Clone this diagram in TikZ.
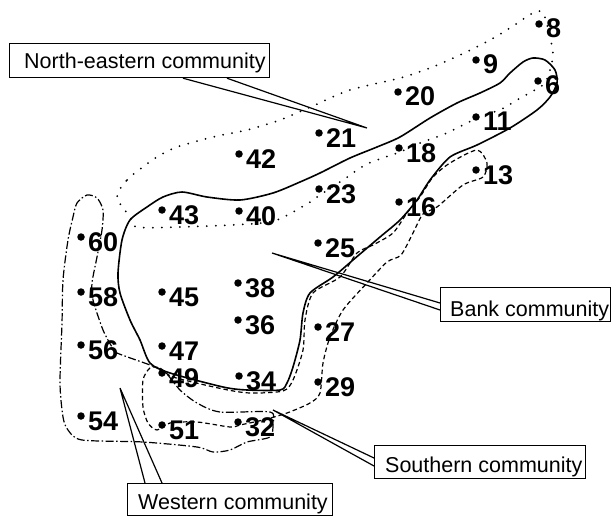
\documentclass[tikz,border=0pt]{standalone}
\usepackage{fontspec}
\setmainfont{Liberation Sans}
\usetikzlibrary{calc}
\tikzset{
  dotpt/.style={circle, fill=black, inner sep=0pt, minimum size=7.5pt},
  num/.style={anchor=base west, inner sep=0pt, font=\fontsize{27}{27}\selectfont\bfseries},
  callbox/.style={draw, line width=1.2pt, fill=white, inner sep=0pt, anchor=north west},
  ctext/.style={anchor=base west, inner sep=0pt, font=\fontsize{21.5}{21.5}\selectfont},
  pointer/.style={line width=1.2pt, line join=miter},
  bankline/.style={line width=1.6pt},
  southline/.style={line width=1.2pt, dash pattern=on 4.5pt off 3pt},
  westline/.style={line width=1.2pt, dash pattern=on 8pt off 2.5pt on 1.5pt off 2.5pt},
  neline/.style={line width=2pt, line cap=round, dash pattern=on 0pt off 9pt}
}
\newcommand\sitept[3]{\node[dotpt] (p#1) at (#2,#3) {}; \node[num] (l#1) at ([shift={(7,14)}]p#1.center) {#1};}
\begin{document}
\begin{tikzpicture}[x=1pt,y=-1pt]
\useasboundingbox (0,0) rectangle (613,516);
% North-eastern community (dotted)
\draw[neline] plot[smooth cycle, tension=0.5] coordinates {
(117,197) (127,180) (143,167) (157,157) (177,147) (213,137) (247,130) (280,120)
(315,105) (350,90) (400,78) (430,68) (460,55) (490,40) (510,28) (533,13) (543,13)
(550,37) (553,55) (550,70) (545,83) (535,90) (517,100) (500,110) (487,114) (467,123)
(447,133) (420,143) (400,152) (367,164) (343,180) (320,195) (307,204) (277,220)
(250,224) (180,227) (137,227) (130,217)};
% Bank community (solid)
\draw[bankline] plot[smooth cycle, tension=0.45] coordinates {
(163,197) (182,192) (207,197) (240,200) (273,193) (300,182) (320,173) (350,158)
(377,147) (400,137) (430,118) (457,103) (480,93) (500,83) (510,73) (523,62) (533,58)
(545,60) (555,70) (557,83) (550,97) (537,110) (510,128) (477,145) (450,157) (430,180)
(417,200) (400,220) (380,237) (353,260) (333,277) (310,293) (303,313) (300,340)
(293,367) (287,383) (280,390) (247,390) (223,387) (170,373) (150,363) (140,340)
(130,320) (120,293) (118,273) (122,240) (130,220) (147,207)};
% Southern community (dashed)
\draw[southline] plot[smooth cycle, tension=0.45] coordinates {
(477,150) (487,163) (483,177) (463,185) (437,207) (423,214) (413,233) (401,255)
(387,262) (367,283) (343,310) (330,337) (323,363) (320,393) (310,403) (287,413)
(263,420) (240,425) (230,427) (197,422) (170,423) (157,430) (148,423) (143,407)
(143,380) (150,368) (160,368) (173,377) (223,389) (250,393) (283,391) (293,380)
(303,350) (305,320) (313,293) (340,277) (357,253) (373,245) (393,233) (407,213)
(420,197) (433,177) (450,163)};
% Western community (dash-dot)
\draw[westline] plot[smooth cycle, tension=0.45] coordinates {
(270,412) (220,412) (197,403) (180,390) (165,372) (150,365) (117,353) (112,347)
(103,330) (93,300) (92,283) (97,257) (102,230) (103,210) (97,198) (87,195) (77,203)
(73,217) (68,240) (63,280) (62,323) (60,383) (63,417) (68,430) (82,440) (143,442)
(197,447) (213,452) (230,450) (247,442) (270,437) (273,424)};
% sites
\sitept{8}{539}{24}
\sitept{9}{476}{60}
\sitept{20}{398}{92}
\sitept{6}{538}{81}
\sitept{11}{476}{117}
\sitept{21}{319}{133}
\sitept{42}{239}{154}
\sitept{18}{399}{148}
\sitept{13}{476}{170}
\sitept{23}{319}{189}
\sitept{43}{162}{210}
\sitept{40}{239}{211}
\sitept{16}{399}{202}
\sitept{60}{81}{237}
\sitept{25}{318}{243}
\sitept{38}{238}{283}
\sitept{58}{81}{292}
\sitept{45}{162}{292}
\sitept{36}{238}{320}
\sitept{27}{318}{327}
\sitept{56}{81}{345}
\sitept{47}{162}{346}
\sitept{49}{162}{373}
\sitept{34}{239}{376}
\sitept{29}{318}{382}
\sitept{54}{81}{416}
\sitept{51}{162}{425}
\sitept{32}{238}{422}
% callout boxes
\node[callbox, minimum width=260pt, minimum height=34pt] (nebox) at (9,43) {};
\node[ctext] (netext) at (24,69) {North-eastern community};
\node[callbox, minimum width=170pt, minimum height=34pt] (bankbox) at (440,287) {};
\node[ctext] (banktext) at (450,316) {Bank community};
\node[callbox, minimum width=211pt, minimum height=33pt] (southbox) at (374,445) {};
\node[ctext] (southtext) at (385,472) {Southern community};
\node[callbox, minimum width=205pt, minimum height=32pt] (westbox) at (127,483) {};
\node[ctext] (westtext) at (138,509) {Western community};
% pointer tips
\coordinate (netip) at (367,128);
\coordinate (banktip) at (272,253);
\coordinate (southtip) at (273,410);
\coordinate (westtip) at (120,388);
\draw[pointer] ($(nebox.south west)+(174,0)$) -- (netip) -- ($(nebox.south west)+(218,0)$);
\draw[pointer] ($(bankbox.north west)+(0,16)$) -- (banktip) -- ($(bankbox.north west)+(0,23)$);
\draw[pointer] ($(southbox.north west)+(0,13)$) -- (southtip) -- ($(southbox.north west)+(0,21)$);
\draw[pointer] ($(westbox.north west)+(18,0)$) -- (westtip) -- ($(westbox.north west)+(35,0)$);
\end{tikzpicture}
\end{document}
